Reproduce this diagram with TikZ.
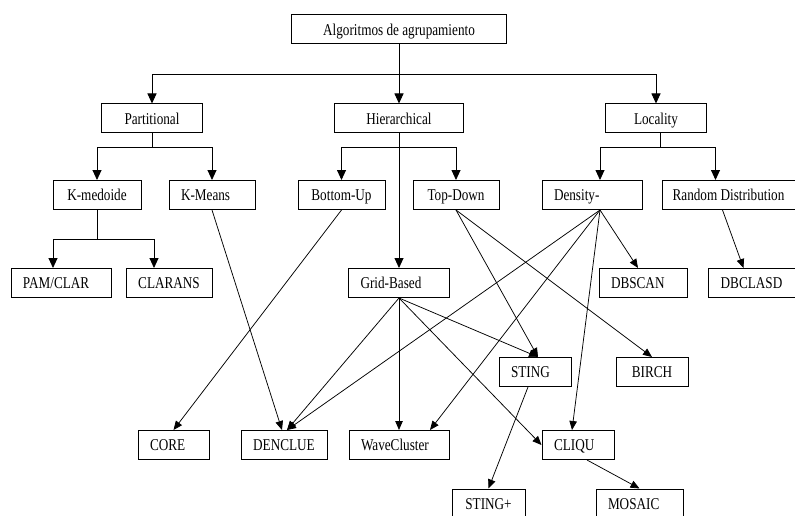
\documentclass[tikz,border=0pt]{standalone}
\usepackage{fontspec}
\setmainfont{Liberation Serif}[FakeStretch=0.8]
\usetikzlibrary{arrows.meta}
\tikzset{
  box/.style={draw=black, line width=1pt, minimum height=29pt, inner xsep=0pt,
    inner ysep=0pt, text height=11.3pt, text depth=0pt,
    font=\fontsize{16.5}{18}\selectfont},
  lbox/.style={box, align=left, inner xsep=12pt},
  tree/.style={-{Triangle[length=10pt,width=9pt]}, line width=.9pt},
  link/.style={-{Triangle[length=9pt,width=7.5pt]}, line width=.75pt}
}
\begin{document}
\begin{tikzpicture}[x=1pt,y=-1pt]
  \path[use as bounding box,fill=white] (0,0) rectangle (795,516);

  \node[box,minimum width=215pt] (root) at (399,29.5) {Algoritmos de agrupamiento};

  \node[box,minimum width=101pt] (part) at (152,118.5) {Partitional};
  \node[box,minimum width=129pt] (hier) at (399,118.5) {Hierarchical};
  \node[box,minimum width=101pt] (loc) at (656,118.5) {Locality};

  \node[box,minimum width=88pt] (kmed) at (97,195) {K-medoide};
  \node[lbox,text width=62pt] (kmeans) at (212,195) {K-Means};
  \node[box,minimum width=87pt] (botup) at (341.5,195) {Bottom-Up};
  \node[box,minimum width=86pt] (topdown) at (456,195) {Top-Down};
  \node[lbox,text width=76pt] (dens) at (592,195) {Density-};
  \node[box,minimum width=133pt] (random) at (728.5,195) {Random Distribution};

  \node[lbox,text width=76pt] (pam) at (61,283) {PAM/CLAR};
  \node[box,minimum width=86pt] (clarans) at (169,283) {CLARANS};
  \node[lbox,text width=77pt] (grid) at (399,283) {Grid-Based};
  \node[lbox,text width=64pt] (dbscan) at (643,283) {DBSCAN};
  \node[box,minimum width=87pt] (dbclasd) at (751.5,283) {DBCLASD};

  \node[lbox,text width=48pt] (sting) at (535,372) {STING};
  \node[box,minimum width=72pt] (birch) at (652,372) {BIRCH};

  \node[lbox,text width=47pt] (core) at (173.5,445) {CORE};
  \node[box,minimum width=86pt] (dencl) at (284,445) {DENCLUE};
  \node[lbox,text width=76pt] (wave) at (399,445) {WaveCluster};
  \node[lbox,text width=48pt] (cliqu) at (578,445) {CLIQU};

  \node[box,minimum width=73pt] (stingp) at (488.5,503.5) {STING+};
  \node[lbox,text width=63pt] (mosaic) at (639.5,503.5) {MOSAIC};

  \coordinate (rj) at (399,74);
  \coordinate (pj) at (152,147);
  \coordinate (hj) at (399,147);
  \coordinate (lj) at (660,147);
  \coordinate (kj) at (97,239);
  \coordinate (ds) at ([xshift=8pt]dens.south);

  \draw[tree] (root) -- (hier);
  \draw[tree] (root.south) -- (rj) -| (part);
  \draw[tree] (rj) -| (loc);
  \draw[tree] ([xshift=4pt]loc.south) -- (lj) -| ([xshift=8pt]dens.north);
  \draw[tree] (lj) -| ([xshift=-13pt]random.north);
  \draw[tree] (part.south) -- (pj) -| (kmed);
  \draw[tree] (pj) -| (kmeans);
  \draw[tree] (hier) -- (grid);
  \draw[tree] (hj) -| (botup);
  \draw[tree] (hj) -| (topdown);
  \draw[tree] (kmed.south) -- (kj) -| ([xshift=-8pt]pam.north);
  \draw[tree] (kj) -| ([xshift=-15pt]clarans.north);

  \draw[link] (kmeans.south) -- ([xshift=-2pt]dencl.north);
  \draw[link] (botup.south) -- (core.north);
  \draw[link] (topdown.south) -- ([xshift=3pt]sting.north);
  \draw[link] (topdown.south) -- (birch.north);
  \draw[link] (grid.south) -- ([xshift=3pt]dencl.north);
  \draw[link] (grid) -- (wave);
  \draw[link] (grid.south) -- ([xshift=3pt]sting.north);
  \draw[link] (grid.south) -- (cliqu.west);
  \draw[link] (ds) -- ([xshift=3pt]dencl.north);
  \draw[link] (ds) -- ([xshift=31pt]wave.north);
  \draw[link] (ds) -- ([xshift=-6pt]cliqu.north);
  \draw[link] (ds) -- ([xshift=-5pt]dbscan.north);
  \draw[link] ([xshift=-6pt]random.south) -- ([xshift=-8pt]dbclasd.north);
  \draw[link] ([xshift=-7pt]sting.south) -- (stingp.north);
  \draw[link] ([xshift=9pt]cliqu.south) -- (mosaic.north);
\end{tikzpicture}
\end{document}
